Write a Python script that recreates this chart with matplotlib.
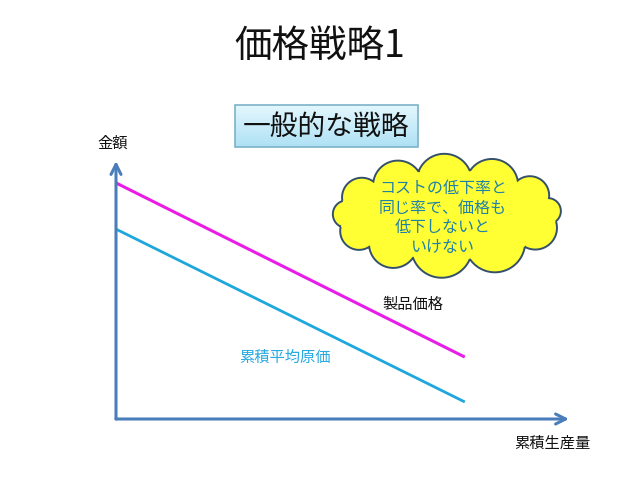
import numpy as np
import matplotlib
matplotlib.use("Agg")
import matplotlib.pyplot as plt
from matplotlib.patches import Rectangle, Polygon

plt.rcParams['font.family'] = ['Noto Sans CJK JP', 'DejaVu Sans']

# Data (arbitrary units)
quantity = [0, 77]
price = [91.5, 24]       # 製品価格
avg_cost = [73.6, 6.6]   # 累積平均原価

title = "価格戦略1"
box_text = "一般的な戦略"
cloud_text = "コストの低下率と\n同じ率で、価格も\n低下しないと\nいけない"

fig = plt.figure(figsize=(6.4, 4.8), dpi=100)

# overlay in pixel coordinates for slide decorations
deco = fig.add_axes([0, 0, 1, 1])
deco.set_xlim(0, 640)
deco.set_ylim(480, 0)
deco.axis("off")

deco.text(320, 46, title, fontsize=27, ha="center", va="center", color="#111111")

# gradient box
x0, y0, x1, y1 = 235, 105, 418, 147
grad = np.linspace(0, 1, 64).reshape(-1, 1)
im = deco.imshow(grad, cmap=matplotlib.colors.LinearSegmentedColormap.from_list(
    "g", ["#e4f7fe", "#aee1f5"]), extent=(x0, x1, y1, y0), aspect="auto", zorder=1)
rect = Rectangle((x0, y0), x1 - x0, y1 - y0, facecolor="none",
                 edgecolor="#7cb3c8", lw=1.2, zorder=2)
deco.add_patch(rect)
im.set_clip_path(rect)
deco.text((x0 + x1) / 2, (y0 + y1) / 2 + 1, box_text, fontsize=20,
          ha="center", va="center", color="#111111", zorder=3)

# cloud shape: round bumps around an ellipse
cx, cy, rx, ry = 447, 215, 110, 45
angles = np.deg2rad([-8, 22, 50, 78, 105, 132, 162, 195, 225, 252, 282, 315, 352])
pts = np.column_stack([cx + rx * np.cos(angles), cy - ry * np.sin(angles)])
verts = []
for a, b in zip(pts[:-1], pts[1:]):
    d = b - a
    n = np.array([d[1], -d[0]])
    n = n / np.linalg.norm(n)
    mid = (a + b) / 2
    if np.dot(n, mid - np.array([cx, cy])) < 0:
        n = -n
    # circular arc through a, b with bulge h
    c = np.linalg.norm(d)
    h = 0.34 * c
    r = (c * c / 4 + h * h) / (2 * h)
    centre = mid + n * (h - r)
    th = np.arcsin(c / 2 / r)
    if h > r:
        th = np.pi - th
    u = d / c
    phi = np.linspace(-th, th, 40)
    seg = centre + np.outer(r * np.sin(phi), u) + np.outer(r * np.cos(phi), n)
    verts.append(seg)
verts = np.vstack(verts)
deco.add_patch(Polygon(verts, closed=True, facecolor="#ffff33",
                       edgecolor="#34506a", lw=1.4, zorder=2))
deco.text(443, 218, cloud_text, fontsize=11.5, ha="center", va="center",
          color="#1f80a8", linespacing=1.2, zorder=3)

deco.text(113, 143, "金額", fontsize=11, ha="center", va="center", color="#111111")
deco.text(552, 443, "累積生産量", fontsize=11, ha="center", va="center", color="#111111")
deco.text(413, 304, "製品価格", fontsize=11, ha="center", va="center", color="#111111")
deco.text(285, 357, "累積平均原価", fontsize=11, ha="center", va="center", color="#27a9e1")

# the chart itself
ax = fig.add_axes([116 / 640, 1 - 419 / 480, (569 - 116) / 640, (419 - 161) / 480])
ax.set_xlim(0, 100)
ax.set_ylim(0, 100)
ax.patch.set_alpha(0)
for sp in ax.spines.values():
    sp.set_visible(False)
ax.set_xticks([])
ax.set_yticks([])

ax.plot(quantity, price, color="#e81ee8", lw=2.2, solid_capstyle="butt")
ax.plot(quantity, avg_cost, color="#1ea7dc", lw=2.0, solid_capstyle="butt")

arrow = dict(arrowstyle="->", color="#4a7ebb", lw=2.2, mutation_scale=18,
             shrinkA=0, shrinkB=0)
ax.annotate("", xy=(1, 0), xytext=(0, 0), xycoords="axes fraction", arrowprops=arrow)
ax.annotate("", xy=(0, 1), xytext=(0, 0), xycoords="axes fraction", arrowprops=arrow)

fig.savefig("out.png", dpi=100)
